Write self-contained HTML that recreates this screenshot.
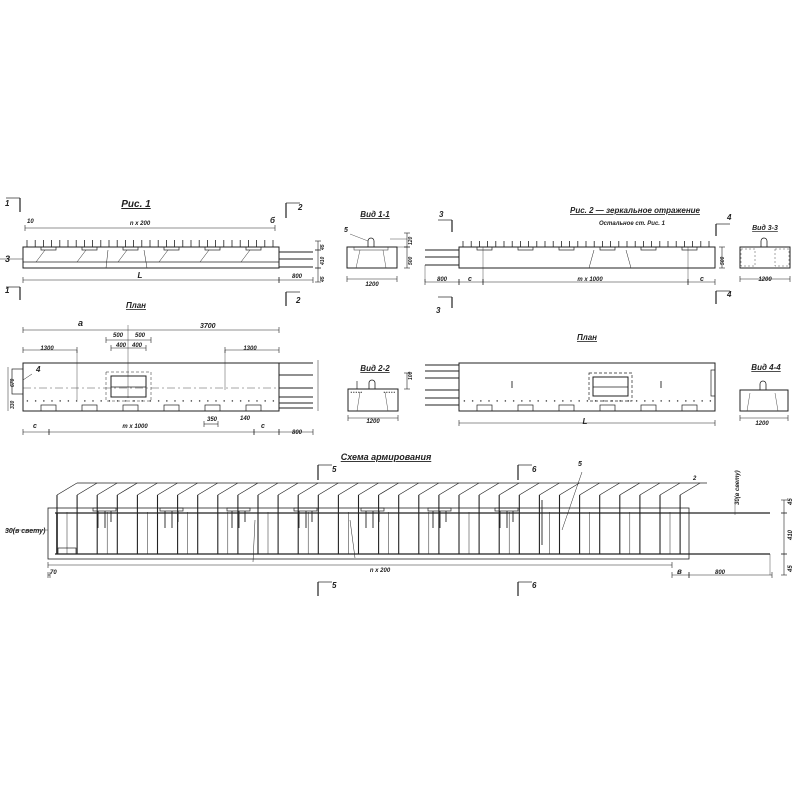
<!DOCTYPE html><html><head><meta charset="utf-8"><style>
html,body{margin:0;padding:0;background:#fff}
svg{display:block}
text{font-family:"Liberation Sans",sans-serif;font-style:italic;font-weight:bold;fill:#222}
</style></head><body>
<svg id="s" width="800" height="800" viewBox="0 0 800 800" xmlns="http://www.w3.org/2000/svg" stroke="#222" fill="none" stroke-width="0.8">
<g id="g"></g>
<g stroke="none">
<text x="136" y="207" font-size="10" text-anchor="middle" text-decoration="underline">Рис. 1</text>
<text x="140" y="225" font-size="6" text-anchor="middle">n x 200</text>
<text x="27" y="223" font-size="6">10</text>
<text x="270" y="223" font-size="8">б</text>
<text x="5" y="262" font-size="9">3</text>
<text x="140" y="278" font-size="8" text-anchor="middle">L</text>
<text x="297" y="278" font-size="6" text-anchor="middle">800</text>
<text x="5" y="206" font-size="8">1</text>
<text x="5" y="293" font-size="8">1</text>
<text x="298" y="210" font-size="8">2</text>
<text x="296" y="303" font-size="8">2</text>
<text x="136" y="308" font-size="8" text-anchor="middle" text-decoration="underline">План</text>
<text x="78" y="326" font-size="9">a</text>
<text x="200" y="328" font-size="7">3700</text>
<text x="118" y="337" font-size="6" text-anchor="middle">500</text>
<text x="140" y="337" font-size="6" text-anchor="middle">500</text>
<text x="121" y="347" font-size="6" text-anchor="middle">400</text>
<text x="137" y="347" font-size="6" text-anchor="middle">400</text>
<text x="47" y="350" font-size="6" text-anchor="middle">1300</text>
<text x="250" y="350" font-size="6" text-anchor="middle">1300</text>
<text x="36" y="372" font-size="8">4</text>
<text x="33" y="428" font-size="7">c</text>
<text x="135" y="428" font-size="6" text-anchor="middle">m x 1000</text>
<text x="261" y="428" font-size="7">c</text>
<text x="297" y="434" font-size="6" text-anchor="middle">800</text>
<text x="212" y="421" font-size="6" text-anchor="middle">350</text>
<text x="240" y="420" font-size="6">140</text>
<text x="375" y="217" font-size="8" text-anchor="middle" text-decoration="underline">Вид 1-1</text>
<text x="344" y="232" font-size="7">5</text>
<text x="372" y="286" font-size="6" text-anchor="middle">1200</text>
<text x="375" y="371" font-size="8" text-anchor="middle" text-decoration="underline">Вид 2-2</text>
<text x="373" y="423" font-size="6" text-anchor="middle">1200</text>
<text x="635" y="213" font-size="8" text-anchor="middle" text-decoration="underline">Рис. 2 — зеркальное отражение</text>
<text x="632" y="225" font-size="6" text-anchor="middle">Остальное  ст. Рис. 1</text>
<text x="439" y="217" font-size="8">3</text>
<text x="436" y="313" font-size="8">3</text>
<text x="727" y="220" font-size="8">4</text>
<text x="727" y="297" font-size="8">4</text>
<text x="765" y="230" font-size="7" text-anchor="middle" text-decoration="underline">Вид 3-3</text>
<text x="765" y="281" font-size="6" text-anchor="middle">1200</text>
<text x="442" y="281" font-size="6" text-anchor="middle">800</text>
<text x="468" y="281" font-size="7">c</text>
<text x="590" y="281" font-size="6" text-anchor="middle">m x 1000</text>
<text x="700" y="281" font-size="7">c</text>
<text x="587" y="340" font-size="8" text-anchor="middle" text-decoration="underline">План</text>
<text x="585" y="424" font-size="8" text-anchor="middle">L</text>
<text x="766" y="370" font-size="8" text-anchor="middle" text-decoration="underline">Вид 4-4</text>
<text x="762" y="425" font-size="6" text-anchor="middle">1200</text>
<text x="386" y="460" font-size="9" text-anchor="middle" text-decoration="underline">Схема армирования</text>
<text x="332" y="472" font-size="8">5</text>
<text x="532" y="472" font-size="8">6</text>
<text x="578" y="466" font-size="7">5</text>
<text x="693" y="480" font-size="6">2</text>
<text x="5" y="533" font-size="7">30(в свету)</text>
<text x="50" y="574" font-size="6">70</text>
<text x="380" y="572" font-size="6" text-anchor="middle">n x 200</text>
<text x="677" y="574" font-size="8">в</text>
<text x="720" y="574" font-size="6" text-anchor="middle">800</text>
<text x="332" y="588" font-size="8">5</text>
<text x="532" y="588" font-size="8">6</text>
<text transform="translate(739,505) rotate(-90)" font-size="6">30(в свету)</text>
<text transform="translate(792,505) rotate(-90)" font-size="6">45</text>
<text transform="translate(792,540) rotate(-90)" font-size="6">410</text>
<text transform="translate(792,572) rotate(-90)" font-size="6">45</text>
<text transform="translate(324,250) rotate(-90)" font-size="5">45</text>
<text transform="translate(324,265) rotate(-90)" font-size="5">410</text>
<text transform="translate(324,282) rotate(-90)" font-size="5">45</text>
<text transform="translate(412,245) rotate(-90)" font-size="5">120</text>
<text transform="translate(412,265) rotate(-90)" font-size="5">500</text>
<text transform="translate(724,265) rotate(-90)" font-size="5">500</text>
<text transform="translate(14,387) rotate(-90)" font-size="5">670</text>
<text transform="translate(14,409) rotate(-90)" font-size="5">330</text>
<text transform="translate(412,380) rotate(-90)" font-size="5">100</text>
</g>
</svg>
<script>
var g=document.getElementById('g'),h='';
function L(a,b,c,d,w,ds){h+='<line x1="'+a+'" y1="'+b+'" x2="'+c+'" y2="'+d+'"'+(w?' stroke-width="'+w+'"':'')+(ds?' stroke-dasharray="'+ds+'"':'')+'/>';}
function R(x,y,w,hh,sw,ds){h+='<rect x="'+x+'" y="'+y+'" width="'+w+'" height="'+hh+'"'+(sw?' stroke-width="'+sw+'"':'')+(ds?' stroke-dasharray="'+ds+'"':'')+'/>';}
function D(a,b,c){L(a,b,c,b,0.6);L(a,b-3,a,b+3,0.6);L(c,b-3,c,b+3,0.6);}
function DV(x,a,b){L(x,a,x,b,0.6);L(x-3,a,x+3,a,0.6);L(x-3,b,x+3,b,0.6);}
function cut(x,y1,y2,dir){L(x,y1,x,y2,1.2);L(x,y1,x+dir*14,y1,0.7);}
// Fig 1
R(23,247,256,21,1);L(23,262,279,262,0.7);
for(var i=0;i<31;i++){var x=27+i*8.2;L(x,240,x,247,0.8);}
for(var i=0;i<6;i++){var x=41+i*41;R(x,247,15,3,0.7);L(x+4,250,x-5,262,0.5);}
L(108,250,106,268,0.5);L(144,250,147,268,0.5);
L(279,252,313,252,1);L(279,259,313,259,1);L(279,267,313,267,1);
L(0,259,23,259,0.5);
D(25,228,275);D(23,280,279);D(279,280,313);DV(318,241,250);DV(318,250,268);DV(318,268,282);
cut(20,198,212,-1);cut(20,287,300,-1);cut(286,203,218,1);cut(286,292,306,1);
// Plan 1
R(23,363,256,48,1);L(23,388,279,388,0.4,'8,3,2,3');
for(var x=27;x<276;x+=8.2)R(x,400.5,0.8,0.8,0.5);
for(var i=0;i<6;i++)R(41+i*41,405,15,6,0.7);
R(111,376,35,21,1);L(111,387,146,387,0.7);R(106,372,45,29,0.5,'3,2');
L(279,363,313,363,1);L(279,375,313,375,1);L(279,388,313,388,1);L(279,397,313,397,1);L(279,403,313,403,1);L(279,408,313,408,1);
R(12,369,11,25,0.7);L(23,380,32,374,0.5);
D(23,330,279);D(106,340,151);D(111,348,146);D(23,350,77);D(225,350,279);
L(128,325,128,398,0.4);L(77,350,77,400,0.4);L(225,350,225,390,0.4);
D(23,432,49);D(49,432,254);D(254,432,279);D(279,432,313);D(204,424,218);
L(8,367,8,411,0.5);L(318,360,318,411,0.5);
// View 1-1
R(347,247,50,21,1);R(354,247,34,3,0.5);h+='<path d="M368 247 v-6 a3 3 0 0 1 6 0 v6"/>';
L(360,250,356,268,0.4);L(383,250,386,268,0.4);L(350,234,368,241,0.4);L(390,247,407,247,0.4);L(390,239,407,239,0.4);
D(347,279,397);DV(407,233,247);DV(407,247,268);
// View 2-2
R(348,389,50,22,1);h+='<path d="M369 389 v-6 a3 3 0 0 1 6 0 v6"/>';L(357,381,357,389,0.7);
for(var k=0;k<5;k++){R(351+k*2.5,392,0.6,0.6,0.5);R(384+k*2.5,392,0.6,0.6,0.5);}
L(360,392,357,411,0.4);L(385,392,388,411,0.4);D(348,418,398);DV(407,373,389);
// Fig 2
R(459,247,256,21,1);
for(var i=0;i<31;i++){var x=463+i*8.2;L(x,241,x,247,0.8);}
for(var i=0;i<6;i++)R(477+i*41,247,15,3,0.7);
L(594,250,589,268,0.5);L(626,250,631,268,0.5);L(483,247,483,282,0.4);L(688,247,688,282,0.4);
L(425,250,459,250,1);L(425,257,459,257,1);L(425,265,459,265,1);L(425,265,425,282,0.4);
D(425,282,459);D(459,282,483);D(483,282,688);D(688,282,715);DV(722,247,268);
cut(452,220,232,-1);cut(452,297,308,-1);cut(716,224,236,1);cut(716,291,304,1);
R(740,247,50,21,1);h+='<path d="M761 247 v-6 a3 3 0 0 1 6 0 v6"/>';R(741,249,14,17,0.4,'2,2');R(775,249,14,17,0.4,'2,2');
D(740,279,790);
// Plan 2
R(459,363,256,48,1);
for(var x=464;x<712;x+=8.2)R(x,400.5,0.8,0.8,0.5);
for(var i=0;i<6;i++)R(477+i*41,405,15,6,0.7);
R(593,377,35,19,1);L(593,387,628,387,0.7);R(589,373,43,28,0.7,'3,2');
L(512,381,512,388,0.9);L(661,381,661,388,0.9);R(711,370,4,26,0.7);
L(425,365,459,365,1);L(425,371,459,371,1);L(425,378,459,378,1);L(425,390,459,390,1);L(425,398,459,398,1);L(425,405,459,405,1);
D(459,423,715);
R(740,390,48,21,1);h+='<path d="M760 390 v-6 a3 3 0 0 1 6 0 v6"/>';L(750,393,747,411,0.4);L(775,393,778,411,0.4);D(740,418,788);
// Armoring
R(48,508,641,51,0.8);L(55,513,770,513,1.3);L(55,554,770,554,1.3);L(57,513,57,554,1.6);R(58,548,18,6,0.7);
for(var i=0;i<32;i++){var x=57+i*20.1;L(x,495,x,554,1.1);L(x,495,x+20,483,0.7);}
for(var i=0;i<32;i+=2){var x=67+i*20.1;if(x<685)L(x,512,x,554,0.5);}
L(77,483,707,483,0.7);
for(var i=0;i<7;i++){var x=93+i*67;R(x,508,23,3,0.7);L(x+5,511,x+5,528,0.9);L(x+12,511,x+12,528,0.9);L(x+18,511,x+18,522,0.9);}
L(255,520,253,562,0.5);L(350,520,355,558,0.5);L(582,472,562,530,0.5);L(542,500,542,545,0.9);
L(770,554,770,575,0.4);
D(48,565,672);D(48,575,50);D(672,575,689);D(689,575,772);DV(784,500,513);DV(784,513,554);DV(784,554,575);
L(735,500,735,515,0.4);L(5,530,48,530,0.4);
cut(318,465,480,1);cut(518,465,480,1);cut(318,582,596,1);cut(518,582,596,1);
g.innerHTML=h;
</script>
</body></html>
